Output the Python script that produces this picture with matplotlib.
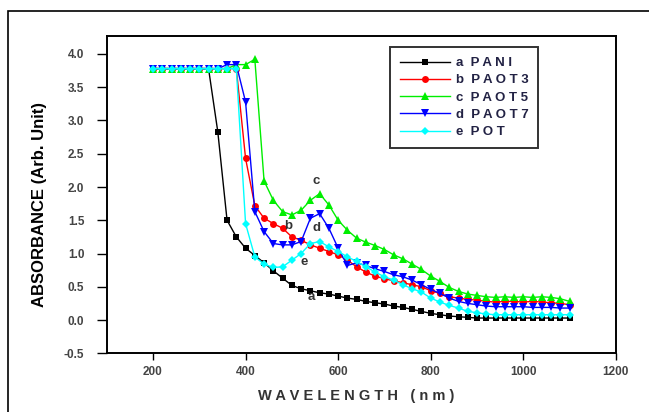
import matplotlib
matplotlib.use("Agg")
import matplotlib.pyplot as plt
from matplotlib.patches import Rectangle
from matplotlib import font_manager

plt.rcParams['font.family'] = ['Liberation Sans', 'DejaVu Sans']

wavelength = list(range(200, 1101, 20))

pani = [3.78, 3.78, 3.78, 3.78, 3.78, 3.78, 3.78, 2.83, 1.50, 1.25,
        1.08, 0.97, 0.86, 0.74, 0.63, 0.52, 0.47, 0.44, 0.41, 0.39,
        0.36, 0.33, 0.31, 0.28, 0.26, 0.24, 0.21, 0.19, 0.16, 0.13,
        0.10, 0.08, 0.06, 0.05, 0.04, 0.03, 0.03, 0.03, 0.03, 0.03,
        0.03, 0.03, 0.03, 0.03, 0.03, 0.03]
paot3 = [3.78, 3.78, 3.78, 3.78, 3.78, 3.78, 3.78, 3.78, 3.78, 3.78,
         2.43, 1.72, 1.53, 1.45, 1.38, 1.25, 1.20, 1.13, 1.08, 1.03,
         0.98, 0.90, 0.80, 0.72, 0.66, 0.62, 0.59, 0.56, 0.53, 0.50,
         0.44, 0.40, 0.35, 0.33, 0.31, 0.30, 0.28, 0.27, 0.28, 0.28,
         0.27, 0.28, 0.27, 0.26, 0.25, 0.23]
paot5 = [3.78, 3.78, 3.78, 3.78, 3.78, 3.78, 3.78, 3.78, 3.78, 3.84,
         3.84, 3.92, 2.09, 1.80, 1.63, 1.58, 1.65, 1.80, 1.90, 1.73,
         1.50, 1.35, 1.23, 1.17, 1.12, 1.06, 0.98, 0.92, 0.84, 0.76,
         0.66, 0.58, 0.49, 0.43, 0.39, 0.37, 0.35, 0.34, 0.35, 0.34,
         0.35, 0.34, 0.35, 0.34, 0.32, 0.28]
paot7 = [3.78, 3.78, 3.78, 3.78, 3.78, 3.78, 3.78, 3.78, 3.84, 3.84,
         3.28, 1.63, 1.33, 1.15, 1.13, 1.13, 1.18, 1.53, 1.60, 1.38,
         1.08, 0.82, 0.86, 0.82, 0.77, 0.73, 0.68, 0.65, 0.60, 0.53,
         0.46, 0.40, 0.33, 0.28, 0.25, 0.23, 0.21, 0.20, 0.20, 0.20,
         0.20, 0.19, 0.19, 0.19, 0.18, 0.18]
pot = [3.78, 3.78, 3.78, 3.78, 3.78, 3.78, 3.78, 3.78, 3.78, 3.78,
       1.45, 0.95, 0.84, 0.79, 0.80, 0.90, 1.00, 1.15, 1.18, 1.10,
       1.03, 0.95, 0.88, 0.80, 0.72, 0.65, 0.60, 0.53, 0.47, 0.42,
       0.33, 0.27, 0.22, 0.18, 0.13, 0.11, 0.09, 0.08, 0.08, 0.08,
       0.08, 0.08, 0.08, 0.08, 0.08, 0.08]

series = [
    ("a  P A N I", pani, "black", "s", 4.5),
    ("b  P A O T 3", paot3, "red", "o", 5),
    ("c  P A O T 5", paot5, "#00ee00", "^", 5.5),
    ("d  P A O T 7", paot7, "blue", "v", 5.5),
    ("e  P O T", pot, "cyan", "D", 4.5),
]

curve_labels = ["c", "b", "d", "e", "a"]
label_x = [553, 492, 553, 527, 541]
label_y = [2.09, 1.41, 1.38, 0.87, 0.34]

fig = plt.figure(figsize=(6.49, 4.12), dpi=100)
ax = fig.add_axes([0.1644, 0.1425, 0.949 - 0.1644, 0.9126 - 0.1425])

for name, vals, col, mk, ms in series:
    ax.plot(wavelength, vals, color=col, marker=mk, markersize=ms, lw=1.0,
            markeredgewidth=0, label=name)

for t, lx, ly in zip(curve_labels, label_x, label_y):
    ax.text(lx, ly, t, fontsize=9.5, fontweight='bold', color='#333333',
            ha='center', va='center')

ax.set_xlim(100, 1200)
ax.set_ylim(-0.5, 4.27)
ax.set_xticks([200, 400, 600, 800, 1000, 1200])
ax.set_yticks([-0.5, 0.0, 0.5, 1.0, 1.5, 2.0, 2.5, 3.0, 3.5, 4.0])
ax.set_yticklabels(["-0.5", "0.0", "0.5", "1.0", "1.5", "2.0", "2.5", "3.0", "3.5", "4.0"])
ax.tick_params(direction='out', width=1, labelsize=8.5, colors='black',
               labelcolor='#444444')
ax.tick_params(axis='y', length=7, pad=9)
ax.tick_params(axis='x', length=5, pad=4)
for lab in ax.get_xticklabels() + ax.get_yticklabels():
    lab.set_fontweight('bold')
for s in ax.spines.values():
    s.set_linewidth(1.4)

ax.set_xlabel("W A V E L E N G T H   ( n m )", fontsize=10.5, fontweight='bold',
              color='#333333')
ax.xaxis.set_label_coords(0.49, -0.112)

names = {f.name for f in font_manager.fontManager.ttflist}
if 'Liberation Sans Narrow' in names:
    ax.set_ylabel("ABSORBANCE (Arb. Unit)", fontsize=14, fontweight='bold',
                  family=['Liberation Sans Narrow', 'DejaVu Sans'])
else:
    ax.set_ylabel("ABSORBANCE (Arb. Unit)", fontsize=12, fontweight='bold')
ax.yaxis.set_label_coords(-0.118, 0.47)

leg = ax.legend(loc='upper left', bbox_to_anchor=(0.557, 0.965), borderaxespad=0,
                frameon=True, fancybox=False, edgecolor='black',
                handlelength=3.8, handletextpad=0.4, labelspacing=0.38,
                borderpad=0.75, prop={'weight': 'bold', 'size': 9.5})
leg.get_frame().set_linewidth(1.4)
for txt in leg.get_texts():
    txt.set_color('#222244')

fig.add_artist(Rectangle((7.5 / 649, -0.2), 1.2, 1.2 - 11 / 412, transform=fig.transFigure,
                         fill=False, lw=1.2, edgecolor='black'))

fig.savefig("out.png", dpi=100)
